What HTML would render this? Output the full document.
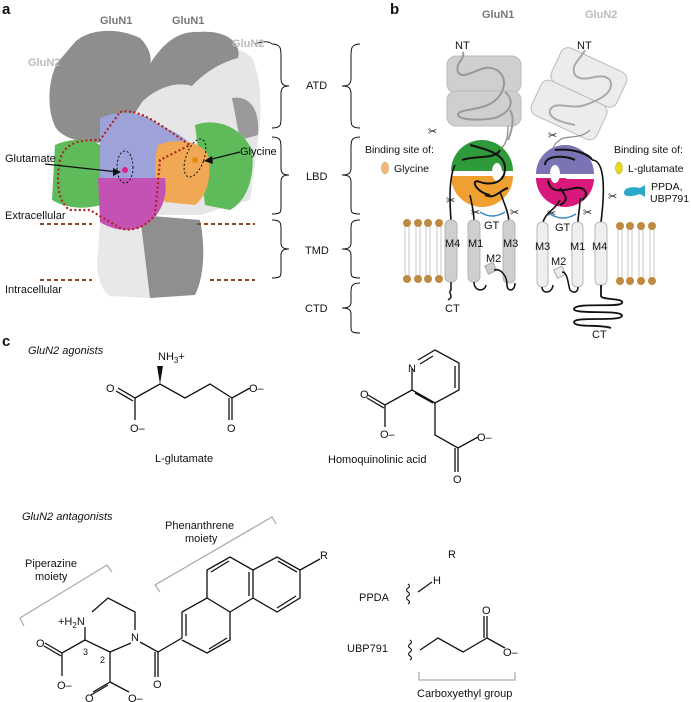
<!DOCTYPE html>
<html><head><meta charset="utf-8"><style>
body{margin:0;background:#fff}
svg{display:block}
text{font-family:"Liberation Sans",sans-serif;font-size:11px;fill:#111}
</style></head><body>
<svg width="691" height="702" viewBox="0 0 691 702" xmlns="http://www.w3.org/2000/svg">
<!-- panel labels -->
<text x="2" y="14" style="font-size:15px;font-weight:bold">a</text>
<text x="390" y="14" style="font-size:15px;font-weight:bold">b</text>
<text x="2" y="346" style="font-size:15px;font-weight:bold">c</text>

<!-- ===== Panel a protein ===== -->
<path d="M255,44 C265,40 270,42 272,44" stroke="#222" fill="none"/>
<!-- light background mass -->
<path d="M120,75 C140,62 160,58 170,62 C195,48 235,40 252,58 C262,80 262,110 258,140 L250,200 L200,215 L120,215 Z" fill="#e6e6e6"/>
<path d="M60,62 C70,55 80,58 85,65 L70,120 L55,110 Z" fill="#e2e2e2"/>
<!-- dark lobes -->
<path d="M75,42 C90,28 120,28 140,38 C150,48 152,58 150,64 C160,48 175,30 200,32 C225,30 242,42 238,58 C222,62 205,72 192,86 C172,80 152,92 142,102 C136,112 126,126 116,140 C96,146 66,142 56,128 C46,110 48,78 58,62 Z" fill="#8e8e8e"/>
<path d="M232,98 C250,95 260,110 258,135 L240,140 Z" fill="#9a9a9a"/>
<!-- stem -->
<path d="M100,222 L150,220 L152,298 L110,296 C100,290 95,270 98,250 Z" fill="#e8e8e8"/>
<path d="M140,215 L200,220 C205,245 205,275 195,295 L150,298 Z" fill="#8f8f8f"/>
<!-- colored LBD -->
<path d="M55,145 C70,138 90,138 100,145 L100,205 C85,210 65,208 52,200 Z" fill="#5fba5a"/>
<path d="M195,125 C215,118 240,125 252,150 C255,175 248,200 230,210 L205,205 Z" fill="#5fba5a"/>
<path d="M100,118 C120,110 140,110 160,125 C180,135 195,140 192,160 L170,180 L100,180 Z" fill="#9da3d8"/>
<path d="M158,145 C175,138 200,140 208,155 C212,175 208,195 195,205 L165,202 C155,185 152,165 158,145 Z" fill="#f0a855"/>
<path d="M98,178 L165,178 C168,195 162,215 145,225 C135,232 115,232 100,222 Z" fill="#c452b4"/>
<path d="M120,112 C140,108 160,125 190,145 L160,160 L155,215 C145,228 130,232 120,228 C110,222 98,215 90,210 L70,210 C60,205 55,185 60,160 C65,140 85,140 100,140 Z" fill="none" stroke="#b22222" stroke-width="2.2" stroke-dasharray="2,2.5"/>
<ellipse cx="125" cy="167" rx="8" ry="16" fill="none" stroke="#111" stroke-dasharray="2,2"/>
<ellipse cx="195" cy="158" rx="9" ry="20" transform="rotate(20 195 158)" fill="none" stroke="#111" stroke-dasharray="2,2"/>
<circle cx="125" cy="170" r="3" fill="#e0208a"/>
<circle cx="195" cy="160" r="3" fill="#e08a10"/>
<text x="100" y="24" style="font-weight:bold;fill:#777">GluN1</text>
<text x="172" y="24" style="font-weight:bold;fill:#777">GluN1</text>
<text x="28" y="66" style="font-weight:bold;fill:#bbb">GluN2</text>
<text x="232" y="47" style="font-weight:bold;fill:#bbb">GluN2</text>
<text x="5" y="162">Glutamate</text>
<line x1="45" y1="164" x2="118" y2="172" stroke="#111" stroke-width="1.2"/>
<path d="M121,172 L113,168 L113,176 Z" fill="#111"/>
<text x="240" y="155">Glycine</text>
<line x1="240" y1="152" x2="208" y2="160" stroke="#111" stroke-width="1.2"/>
<path d="M204,161 L212,156 L213,164 Z" fill="#111"/>
<text x="5" y="219">Extracellular</text>
<text x="5" y="293">Intracellular</text>
<g stroke="#8b4a20" stroke-width="2" stroke-dasharray="4,3">
<line x1="40" y1="224" x2="92" y2="224"/><line x1="197" y1="224" x2="255" y2="224"/>
<line x1="40" y1="280" x2="92" y2="280"/><line x1="210" y1="280" x2="255" y2="280"/>
</g>

<!-- braces -->
<g fill="none" stroke="#111" stroke-width="1">
<path d="M272,44 C282,44 281,50 281,60 L281,78 C281,84 283,86 289,86 C283,86 281,88 281,94 L281,115 C281,124 282,128 272,128"/>
<path d="M272,137 C282,137 281,142 281,152 L281,168 C281,173 283,175 289,175 C283,175 281,177 281,182 L281,204 C281,212 282,214 272,214"/>
<path d="M272,220 C282,220 281,224 281,232 L281,243 C281,247 283,249 289,249 C283,249 281,251 281,255 L281,268 C281,276 282,278 272,278"/>
<path d="M360,44 C350,44 351,50 351,60 L351,78 C351,84 349,86 342,86 C349,86 351,88 351,94 L351,115 C351,124 350,128 360,128"/>
<path d="M360,137 C350,137 351,142 351,152 L351,168 C351,173 349,175 342,175 C349,175 351,177 351,182 L351,204 C351,212 350,214 360,214"/>
<path d="M360,220 C350,220 351,224 351,232 L351,243 C351,247 349,249 342,249 C349,249 351,251 351,255 L351,268 C351,276 350,278 360,278"/>
<path d="M360,283 C350,283 351,288 351,296 L351,302 C351,306 349,308 342,308 C349,308 351,310 351,314 L351,324 C351,331 350,333 360,333"/>
</g>
<text x="306" y="89">ATD</text>
<text x="306" y="180">LBD</text>
<text x="305" y="254">TMD</text>
<text x="305" y="312">CTD</text>

<!-- ===== Panel b ===== -->
<text x="482" y="18" style="font-weight:bold;fill:#777">GluN1</text>
<text x="585" y="18" style="font-weight:bold;fill:#bbb">GluN2</text>
<text x="455" y="49">NT</text>
<text x="577" y="49">NT</text>
<rect x="447" y="56" width="74" height="37" rx="9" fill="#cfcfcf" stroke="#bbb"/>
<rect x="447" y="91" width="74" height="35" rx="9" fill="#cfcfcf" stroke="#bbb"/>
<path d="M463,52 C465,60 455,62 458,72 C462,80 475,70 485,68 C500,66 510,80 500,95 C490,110 470,108 460,112 C452,118 470,122 495,118 C512,112 515,100 505,92 M510,110 C515,118 512,130 508,140" fill="none" stroke="#999" stroke-width="2"/>
<path d="M508,126 C508,140 505,145 500,150 C497,155 498,160 496,165" fill="none" stroke="#888" stroke-width="1.2"/>
<g transform="rotate(25 588 77)"><rect x="553" y="58" width="72" height="38" rx="8" fill="#ececec" stroke="#bbb"/></g>
<g transform="rotate(25 569 110)"><rect x="533" y="91" width="72" height="38" rx="8" fill="#ececec" stroke="#bbb"/></g>
<path d="M585,50 C580,60 570,65 575,75 C585,85 600,70 610,80 C615,92 600,100 585,105 C570,110 555,100 550,110 C548,118 560,122 575,125" fill="none" stroke="#aaa" stroke-width="2"/>
<path d="M590,130 C580,140 565,135 560,140 C552,145 552,150 555,155" fill="none" stroke="#888" stroke-width="1.2"/>
<g font-size="12">
<text x="428" y="135">✂</text><text x="548" y="139">✂</text>
<text x="446" y="204">✂</text><text x="471" y="216">✂</text><text x="510" y="216">✂</text>
<text x="547" y="217">✂</text><text x="583" y="216">✂</text><text x="608" y="200">✂</text>
</g>
<path d="M451,171 A31,31 0 0 1 513,171 Z" fill="#2f9a3a"/>
<path d="M451,176 A31,31 0 0 0 513,176 L513,176 Z" fill="#f0a030"/>
<rect x="450" y="171" width="40" height="5" fill="#fff"/>
<ellipse cx="497" cy="172" rx="5" ry="9" fill="#fff"/>
<path d="M470,145 C490,150 505,155 505,168 C505,185 488,185 480,182 C470,178 475,192 490,195 M462,160 C475,155 495,160 500,150 M485,195 C495,200 500,190 508,188" fill="none" stroke="#111" stroke-width="2"/>
<path d="M455,165 C450,175 449,195 451,220 M470,195 C472,205 474,212 474,221 M500,192 C505,205 508,212 509,221" fill="none" stroke="#111" stroke-width="1.6"/>
<path d="M536,174 A29,29 0 0 1 594,174 Z" fill="#7a74b4"/>
<path d="M536,178 A29,29 0 0 0 594,178 Z" fill="#d8187a"/>
<rect x="566" y="174" width="30" height="5" fill="#fff"/>
<ellipse cx="555" cy="174" rx="5" ry="9" fill="#fff"/>
<path d="M555,150 C575,148 590,155 592,160 M545,165 C545,155 565,155 575,160 M548,180 C550,195 565,190 575,188 C585,186 590,195 582,200 M560,188 C565,195 570,200 560,205" fill="none" stroke="#111" stroke-width="2"/>
<path d="M592,160 C605,160 605,190 601,222 M560,200 C555,210 546,212 543,222 M580,198 C580,210 578,215 578,222" fill="none" stroke="#111" stroke-width="1.6"/>
<path d="M480,212 Q492,220 505,212" fill="none" stroke="#3a8ac0" stroke-width="1.5"/>
<path d="M550,214 Q563,222 576,214" fill="none" stroke="#3a8ac0" stroke-width="1.5"/>
<g fill="#cfcfcf" stroke="#aaa" stroke-width="0.8">
<rect x="445" y="220" width="12" height="62" rx="5"/>
<rect x="468" y="220" width="12" height="62" rx="5"/>
<rect x="503" y="220" width="12" height="63" rx="5"/>
</g>
<g fill="#efefef" stroke="#aaa" stroke-width="0.8">
<rect x="537" y="222" width="11" height="65" rx="5"/>
<rect x="572" y="222" width="11" height="65" rx="5"/>
<rect x="595" y="222" width="12" height="63" rx="5"/>
</g>
<rect x="486" y="264" width="9" height="9" fill="#ccc" stroke="#aaa" transform="rotate(-25 490 268)"/>
<rect x="555" y="268" width="9" height="9" fill="#eee" stroke="#aaa" transform="rotate(-25 559 272)"/>
<path d="M474,282 C474,292 485,292 486,285 M494,270 C500,268 507,275 507,285 C507,292 515,292 515,283" fill="none" stroke="#111" stroke-width="1.5"/>
<path d="M542,287 C542,294 552,294 553,285 M562,272 C568,272 568,285 570,290 C574,294 578,292 578,287" fill="none" stroke="#111" stroke-width="1.5"/>
<path d="M451,282 L451,290 C447,293 455,296 448,300" fill="none" stroke="#111" stroke-width="1.5"/>
<path d="M601,285 L601,296 C601,300 625,298 622,303 C620,308 575,302 574,309 C574,315 623,309 622,316 C620,322 575,316 574,322 C574,328 600,324 611,328" fill="none" stroke="#111" stroke-width="1.8"/>
<text x="445" y="247">M4</text><text x="468" y="247">M1</text><text x="503" y="247">M3</text>
<text x="486" y="262">M2</text><text x="484" y="229">GT</text>
<text x="535" y="250">M3</text><text x="570" y="250">M1</text><text x="592" y="250">M4</text>
<text x="551" y="265">M2</text><text x="555" y="231">GT</text>
<text x="445" y="312">CT</text><text x="592" y="338">CT</text>
<g stroke="#bbb" stroke-width="0.8" fill="none">
<path d="M405,226 L405,276 M409,226 L409,276 M416,226 L416,276 M420,226 L420,276 M426,226 L426,276 M430,226 L430,276 M437,226 L437,276 M441,226 L441,276"/>
<path d="M618,228 L618,278 M622,228 L622,278 M628,228 L628,278 M632,228 L632,278 M639,228 L639,278 M643,228 L643,278 M650,228 L650,278 M654,228 L654,278"/>
</g>
<g fill="#c08a40">
<circle cx="407" cy="223" r="4"/><circle cx="418" cy="223" r="4"/><circle cx="428" cy="223" r="4"/><circle cx="439" cy="223" r="4"/>
<circle cx="407" cy="279" r="4"/><circle cx="418" cy="279" r="4"/><circle cx="428" cy="279" r="4"/><circle cx="439" cy="279" r="4"/>
<circle cx="620" cy="226" r="4"/><circle cx="630" cy="226" r="4"/><circle cx="641" cy="226" r="4"/><circle cx="652" cy="226" r="4"/>
<circle cx="620" cy="281" r="4"/><circle cx="630" cy="281" r="4"/><circle cx="641" cy="281" r="4"/><circle cx="652" cy="281" r="4"/>
</g>
<text x="365" y="153" style="font-size:10.5px">Binding site of:</text>
<ellipse cx="385" cy="168" rx="3.5" ry="6" fill="#f2b870" stroke="#c89050" stroke-width="0.5"/>
<text x="394" y="172" style="font-size:10.5px">Glycine</text>
<text x="614" y="153" style="font-size:10.5px">Binding site of:</text>
<ellipse cx="619" cy="168" rx="3.5" ry="6" fill="#e8d820" stroke="#b0a010" stroke-width="0.5"/>
<text x="628" y="172" style="font-size:10.5px">L-glutamate</text>
<path d="M624,193 C624,188 630,186 640,188 L645,185 L645,197 L640,194 C632,197 624,197 624,193 Z" fill="#2aa8c8"/>
<text x="651" y="190" style="font-size:10.5px">PPDA,</text>
<text x="650" y="202" style="font-size:10.5px">UBP791</text>

<!-- ===== Panel c ===== -->
<text x="28" y="354" style="font-style:italic">GluN2 agonists</text>
<g fill="none" stroke="#111" stroke-width="1.3">
<path d="M135,398 L160,384 L185,398 L210,384 L232,398 L250,388"/>
<path d="M135,398 L118,388 M133,401 L116,391"/>
<path d="M135,398 L135,420"/>
<path d="M232,398 L232,420 M229,398 L229,420"/>
<path d="M412,368 L412,390 L435,403 L459,390 L459,363 L435,350 L418,360"/>
<path d="M455,366 L455,388 M420,364 L433,356 M415,393 L433,403" />
<path d="M412,390 L385,405 L368,395 M384,408 L367,398 M385,405 L385,427"/>
<path d="M435,403 L435,435 L458,448 L478,437 M458,448 L458,472 M455,448 L455,472"/>
<path d="M92,612 L108,598 L135,612 L135,630 M131,643 L110,652 L85,640 L85,627"/>
<path d="M85,640 L62,653 L45,643 M61,656 L44,646 M62,653 L62,676"/>
<path d="M110,652 L110,682 L93,692 M108,685 L91,695 M110,682 L129,692"/>
<path d="M140,642 L158,652 L182,638 M158,652 L158,677 M155,652 L155,677"/>
<path d="M182,638 L182,612 L207,598 L230,612 L230,640 L207,653 L182,640 M186,614 L186,636 M209,649 L227,638"/>
<path d="M207,598 L207,570 L230,557 L253,570 L253,598 L230,612 M211,572 L229,561 M249,572 L249,596"/>
<path d="M253,570 L277,557 L300,570 L300,598 L277,612 L253,598 M278,561 L297,572 M296,596 L277,608 M300,570 L320,559"/>
<path d="M432,582 L418,592"/>
<path d="M420,650 L438,638 L463,652 L487,638 L505,648 M487,638 L487,616 M484,638 L484,616"/>
</g>
<path d="M160,384 L157,366 L163,366 Z" fill="#111"/>
<g fill="none" stroke="#111" stroke-width="1.1">
<path d="M408,584 q3,2 0,4 q-3,2 0,4 q3,2 0,4 q-3,2 0,4 q3,2 0,4"/>
<path d="M410,640 q3,2 0,4 q-3,2 0,4 q3,2 0,4 q-3,2 0,4 q3,2 0,4"/>
</g>
<g fill="none" stroke="#aaa" stroke-width="1.2">
<path d="M24,626 L20,618 L107,565 L112,572"/>
<path d="M160,592 L155,585 L272,517 L276,524"/>
<path d="M419,672 L419,680 L515,680 L515,672"/>
</g>
<g style="font-size:12px">
<text x="158" y="360">NH<tspan font-size="8" dy="3">3</tspan><tspan dy="-3">+</tspan></text>
<text x="106" y="392">O</text>
<text x="130" y="432">O–</text>
<text x="249" y="392">O–</text>
<text x="227" y="432">O</text>
<text x="408" y="372">N</text>
<text x="360" y="398">O</text>
<text x="380" y="438">O–</text>
<text x="477" y="441">O–</text>
<text x="453" y="483">O</text>
<text x="58" y="625">+H<tspan font-size="8" dy="3">2</tspan><tspan dy="-3">N</tspan></text>
<text x="131" y="641">N</text>
<text x="36" y="647">O</text>
<text x="57" y="689">O–</text>
<text x="85" y="702">O</text>
<text x="128" y="702">O–</text>
<text x="153" y="688">O</text>
<text x="320" y="559">R</text>
<text x="448" y="558">R</text>
<text x="433" y="584">H</text>
<text x="482" y="614">O</text>
<text x="503" y="656">O–</text>
</g>
<text x="83" y="655" style="font-size:9px">3</text>
<text x="100" y="663" style="font-size:9px">2</text>
<text x="155" y="462">L-glutamate</text>
<text x="328" y="463">Homoquinolinic acid</text>
<text x="22" y="520" style="font-style:italic">GluN2 antagonists</text>
<text x="165" y="529">Phenanthrene</text>
<text x="185" y="542">moiety</text>
<text x="25" y="567">Piperazine</text>
<text x="35" y="580">moiety</text>
<text x="359" y="601">PPDA</text>
<text x="347" y="652">UBP791</text>
<text x="417" y="697">Carboxyethyl group</text>
</svg>
</body></html>
